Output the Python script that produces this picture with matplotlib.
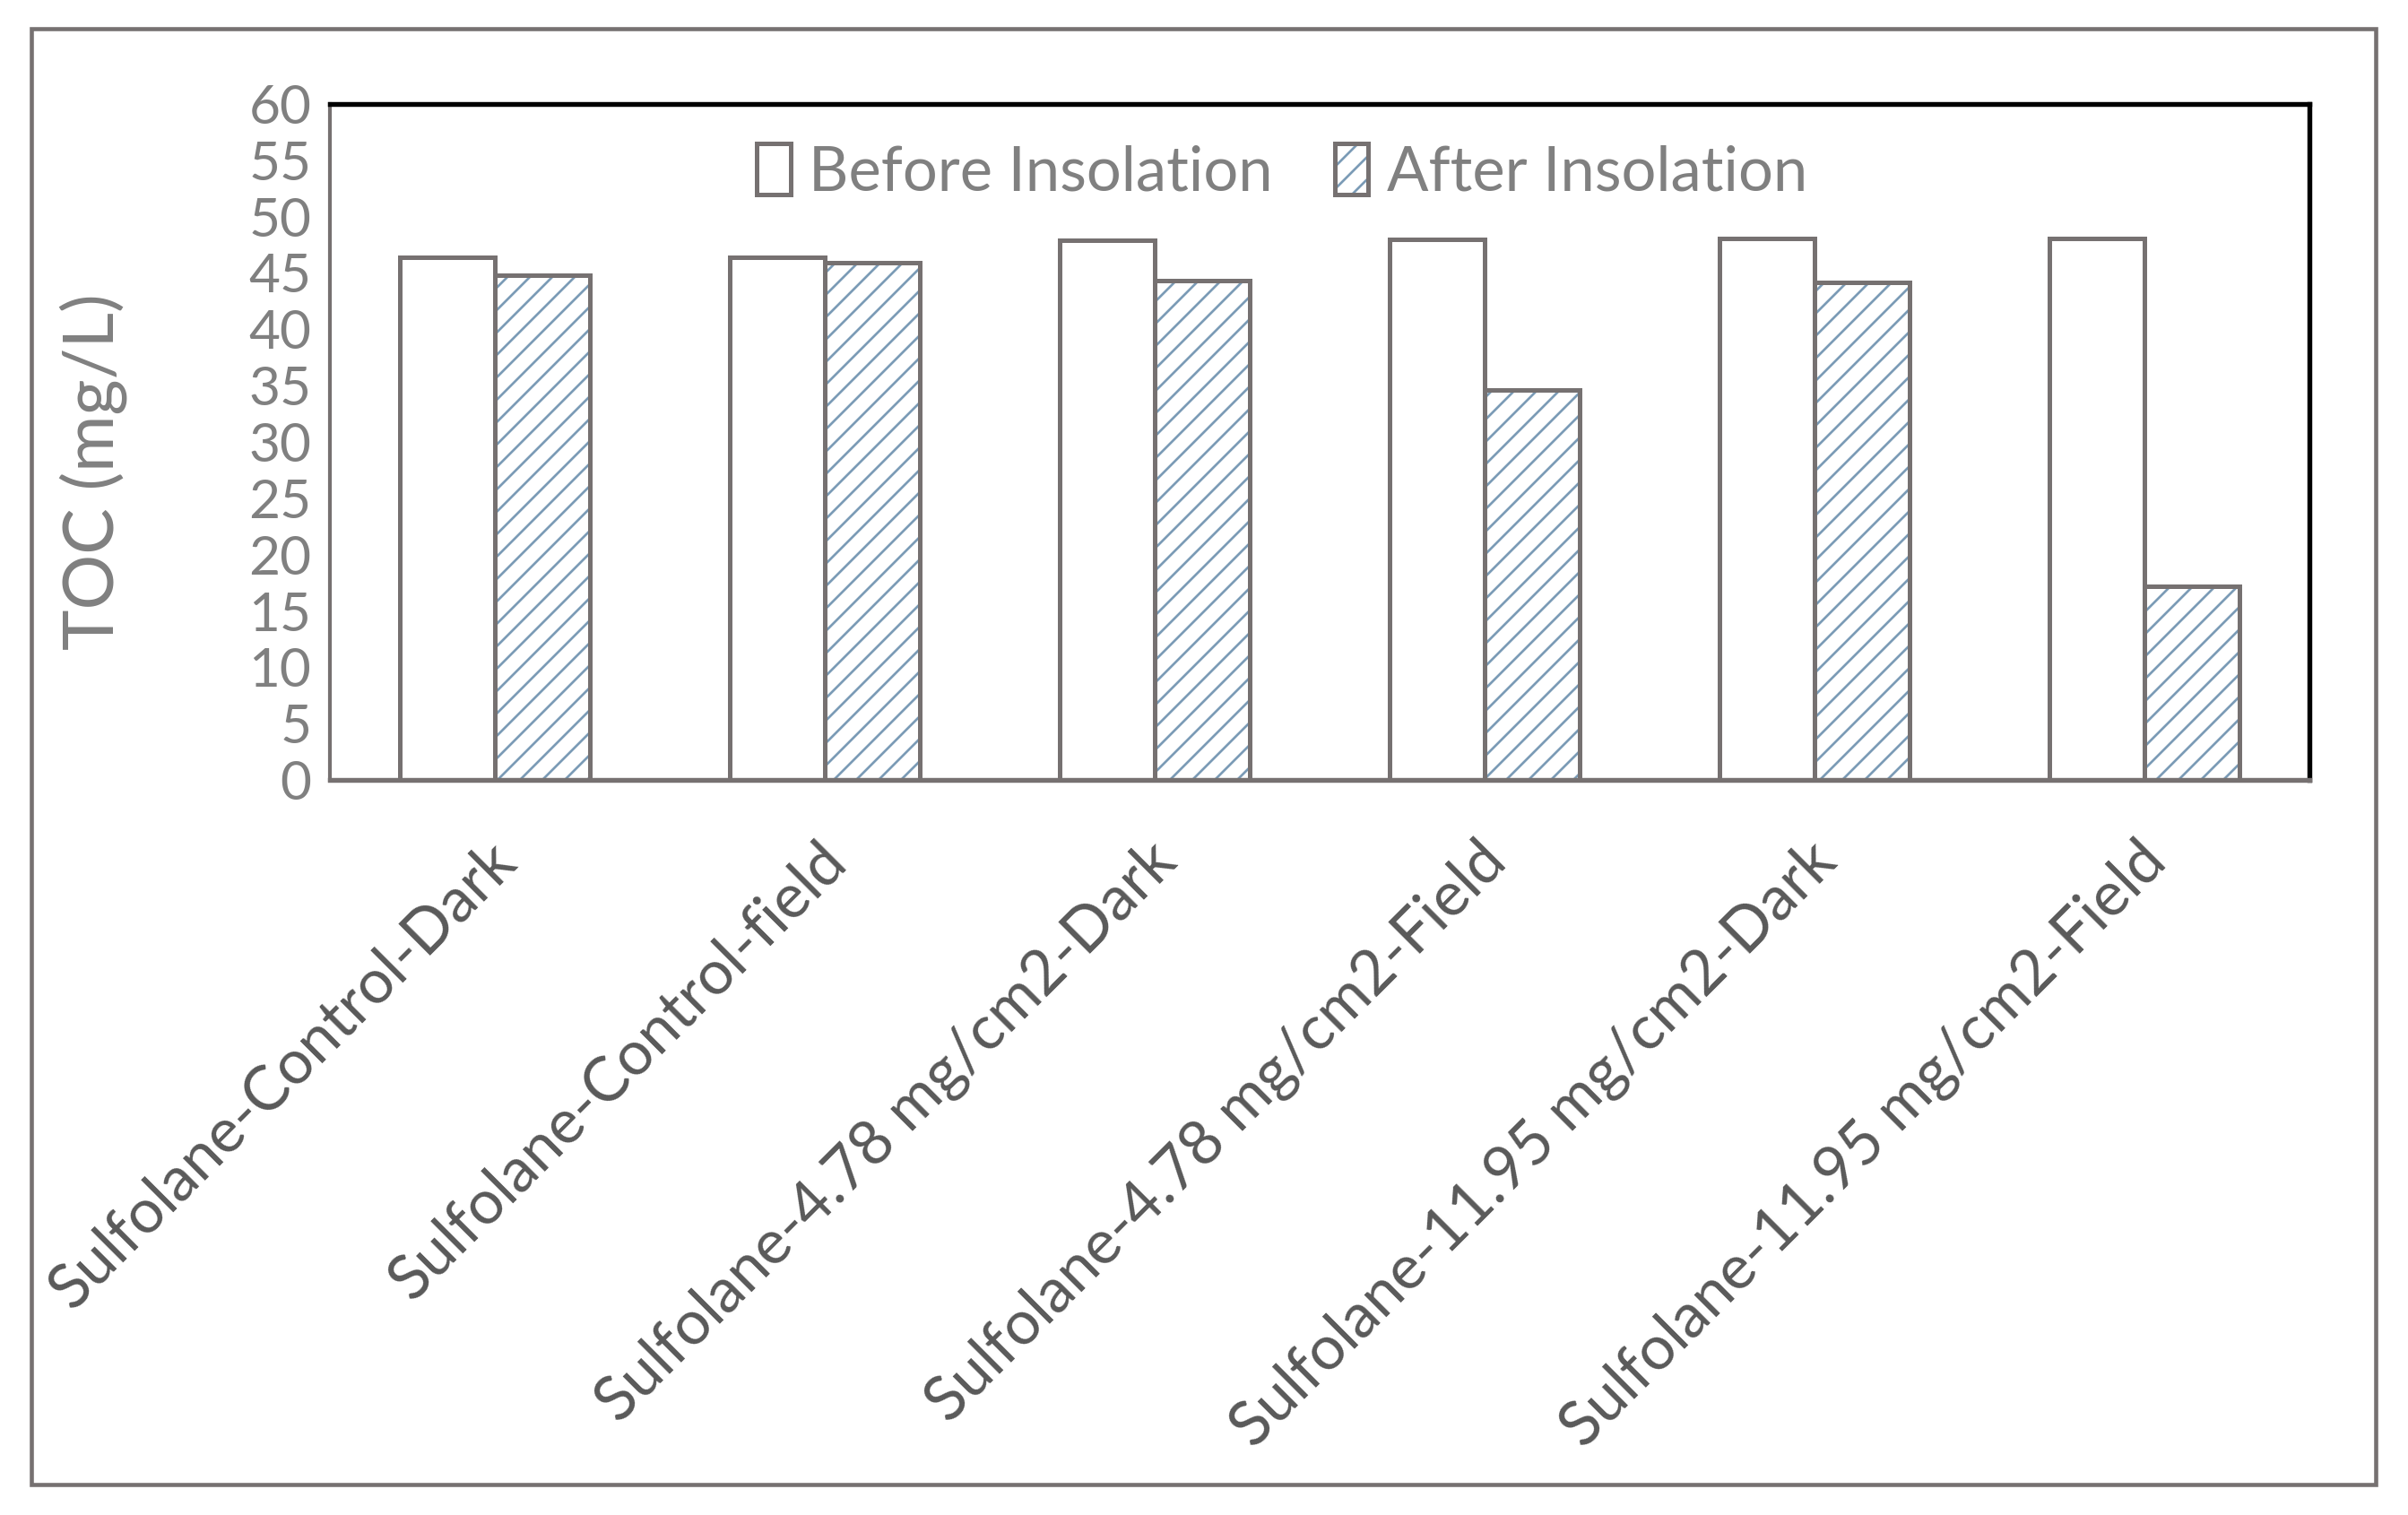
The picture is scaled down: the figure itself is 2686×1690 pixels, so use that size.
import numpy as np
import matplotlib
matplotlib.use("Agg")
import matplotlib.pyplot as plt
from matplotlib.patches import Rectangle
from matplotlib.legend_handler import HandlerTuple
from matplotlib.transforms import ScaledTranslation

categories = ["Sulfolane-Control-Dark", "Sulfolane-Control-field",
              "Sulfolane-4.78 mg/cm2-Dark", "Sulfolane-4.78 mg/cm2-Field",
              "Sulfolane-11.95 mg/cm2-Dark", "Sulfolane-11.95 mg/cm2-Field"]
before = [46.4, 46.4, 47.9, 48.0, 48.1, 48.1]
after = [44.8, 45.9, 44.3, 34.6, 44.2, 17.2]
series_names = ["Before Insolation", "After Insolation"]
yticks = list(range(0, 61, 5))

EDGE = "#767171"
HATCH = "#7b9bb6"

plt.rcParams["font.family"] = ["Lato", "DejaVu Sans"]
plt.rcParams["hatch.linewidth"] = 1.3

fig = plt.figure(figsize=(2686 / 150, 1690 / 150), dpi=150)
ax = fig.add_axes([368 / 2686, 1 - 870 / 1690, (2576 - 368) / 2686, (870 - 116) / 1690])

# outer frame
fig.patches.append(Rectangle((35 / 2686, 1 - 1656 / 1690), (2650 - 35) / 2686, (1656 - 32) / 1690,
                             transform=fig.transFigure, fill=False, edgecolor=EDGE, lw=2.2))

x = np.arange(len(categories))
w = 0.287
b1 = ax.bar(x - w / 2, before, w, facecolor="white", edgecolor=EDGE, lw=2.4, zorder=3)
b2h = ax.bar(x + w / 2, after, w, facecolor="white", edgecolor=HATCH, lw=0, hatch="//", zorder=3)
b2e = ax.bar(x + w / 2, after, w, fill=False, edgecolor=EDGE, lw=2.4, zorder=4)

ax.set_xlim(-0.5, len(categories) - 0.5)
ax.set_ylim(0, 60)
ax.set_yticks(yticks)
ax.tick_params(axis="y", length=0, pad=10, labelsize=29, labelcolor="#808080")
ax.set_xticks(x)
ax.set_xticklabels(categories, rotation=45, ha="right", rotation_mode="anchor",
                   fontsize=33, color="#595959")
ax.tick_params(axis="x", length=0, pad=28)
for lab in ax.get_xticklabels():
    lab.set_transform(lab.get_transform() + ScaledTranslation(-0.06, 0, fig.dpi_scale_trans))

ax.set_ylabel("TOC (mg/L)", fontsize=37, color="#808080")
ax.yaxis.set_label_coords(-0.1025, 0.456)

for s in ("top", "right"):
    ax.spines[s].set_color("black")
    ax.spines[s].set_linewidth(2.6)
ax.spines["left"].set_color(EDGE)
ax.spines["left"].set_linewidth(2.0)
ax.spines["bottom"].set_color(EDGE)
ax.spines["bottom"].set_linewidth(2.6)
ax.spines["bottom"].set_zorder(5)

leg = ax.legend([b1, (b2h, b2e)], series_names, handler_map={tuple: HandlerTuple(ndivide=1)},
                loc="center", bbox_to_anchor=(0.481, 0.899), ncol=2, frameon=False,
                fontsize=33, handlelength=0.55, handleheight=0.9, handletextpad=0.3,
                columnspacing=1.0, labelcolor="#808080")

fig.savefig("out.png", dpi=150, facecolor="white")
